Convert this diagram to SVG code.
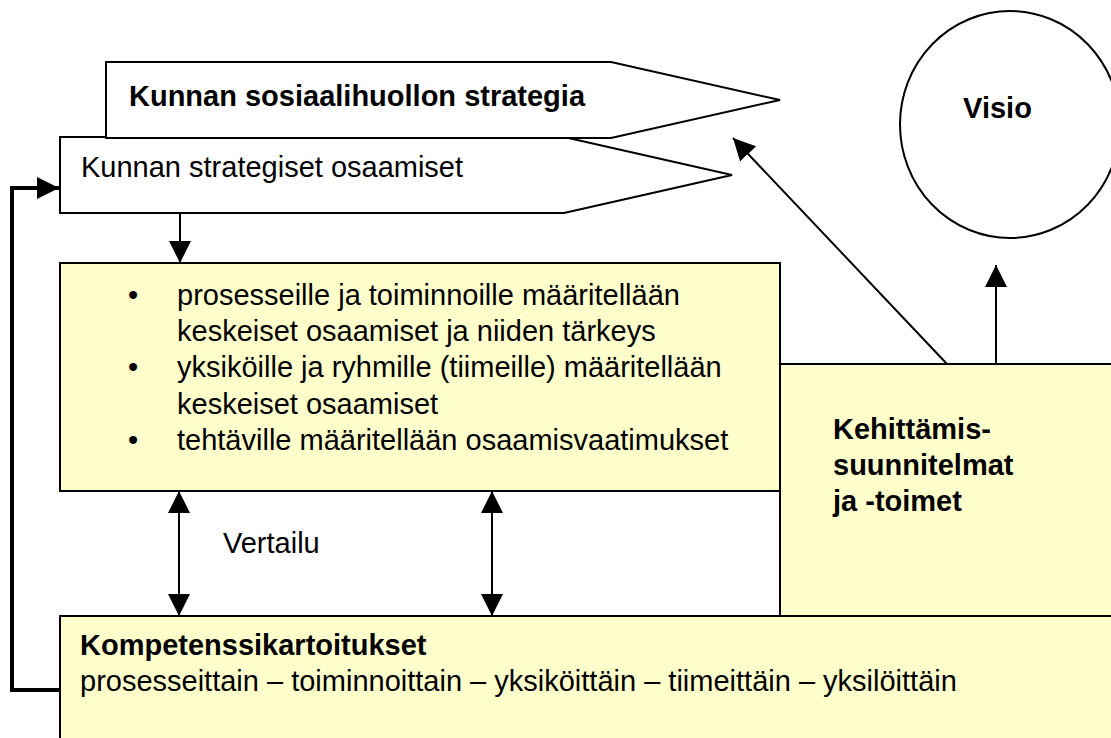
<svg xmlns="http://www.w3.org/2000/svg" width="1111" height="738" viewBox="0 0 1111 738">
<style>
.box{fill:#FFFFCC;stroke:#000;stroke-width:2}
.shape{fill:#FFFFFF;stroke:#000;stroke-width:2}
.t{font-family:"Liberation Sans",Arial,sans-serif;font-size:29px;fill:#000}
.b{font-weight:bold}
.c{fill:none;stroke:#000;stroke-width:2}
.fb{fill:none;stroke:#000;stroke-width:4}
</style>
<defs>
<marker id="ah" viewBox="0 0 22 22" refX="22" refY="11" markerWidth="22" markerHeight="22" markerUnits="userSpaceOnUse" orient="auto-start-reverse">
<path d="M0,0 L22,11 L0,22 z" fill="#000"/>
</marker>
</defs>
<rect width="1111" height="738" fill="#FFFFFF"/>
<g id="visio">
<ellipse cx="1010" cy="124.5" rx="110" ry="113.5" class="shape"/>
<text x="997.5" y="118" class="t b" text-anchor="middle">Visio</text>
</g>
<g id="strategiset">
<path d="M60,137 H564 L732,175 L564,213 H60 Z" class="shape"/>
<text x="81" y="177" class="t">Kunnan strategiset osaamiset</text>
</g>
<g id="sosiaalihuolto">
<path d="M106,62 H611 L780,100 L611,138 H106 Z" class="shape"/>
<text x="129" y="106" class="t b">Kunnan sosiaalihuollon strategia</text>
</g>
<g id="kompetenssi">
<rect x="60" y="616" width="1070" height="140" class="box"/>
<text x="80" y="655" class="t b">Kompetenssikartoitukset</text>
<text x="80" y="691" class="t">prosesseittain – toiminnoittain – yksiköittäin – tiimeittäin – yksilöittäin</text>
</g>
<g id="kehittaminen">
<rect x="780" y="364" width="350" height="252" class="box"/>
<text class="t b"><tspan x="833" y="439">Kehittämis-</tspan><tspan x="833" y="475">suunnitelmat</tspan><tspan x="833" y="511">ja -toimet</tspan></text>
</g>
<g id="maarittely">
<rect x="60" y="263" width="720" height="228" class="box"/>
<g class="t">
<text x="133" y="305" text-anchor="middle">•</text>
<text x="177" y="305">prosesseille ja toiminnoille määritellään</text>
<text x="177" y="341">keskeiset osaamiset ja niiden tärkeys</text>
<text x="133" y="377" text-anchor="middle">•</text>
<text x="177" y="377">yksiköille ja ryhmille (tiimeille) määritellään</text>
<text x="177" y="414">keskeiset osaamiset</text>
<text x="133" y="450" text-anchor="middle">•</text>
<text x="177" y="450">tehtäville määritellään osaamisvaatimukset</text>
</g>
</g>
<g id="connectors">
<line x1="180" y1="213" x2="180" y2="263" class="c" marker-end="url(#ah)"/>
<line x1="179" y1="491" x2="179" y2="616" class="c" marker-start="url(#ah)" marker-end="url(#ah)"/>
<line x1="492" y1="491" x2="492" y2="616" class="c" marker-start="url(#ah)" marker-end="url(#ah)"/>
<line x1="947" y1="364" x2="733" y2="138" class="c" marker-end="url(#ah)"/>
<line x1="996" y1="364" x2="996" y2="265" class="c" marker-end="url(#ah)"/>
<path d="M60,690 H12 V188 H59" class="fb" marker-end="url(#ah)"/>
<text x="223" y="553" class="t">Vertailu</text>
</g>
</svg>
